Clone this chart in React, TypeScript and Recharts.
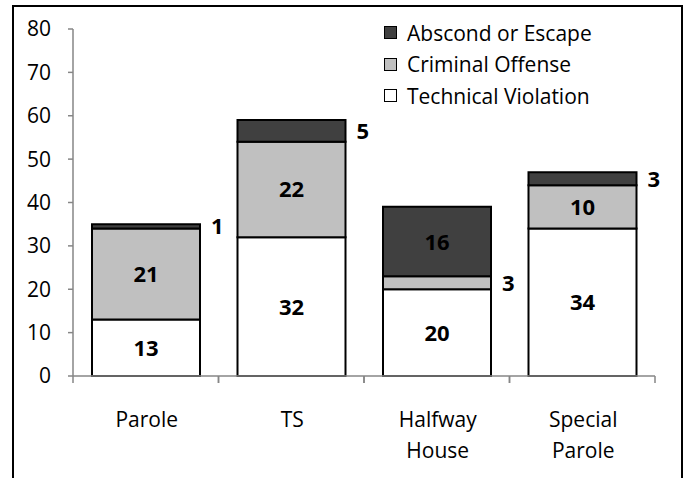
import { BarChart, Bar, XAxis, YAxis, LabelList } from 'recharts'

const categories = ['Parole', 'TS', 'Halfway House', 'Special Parole']
const technical = [13, 32, 20, 34]
const criminal = [21, 22, 3, 10]
const abscond = [1, 5, 16, 3]
const yTicks = [0, 10, 20, 30, 40, 50, 60, 70, 80]

const FONT = '"Open Sans", sans-serif'
const FS = 21
const AXIS = '#868686'

const W = 688
const H = 478
const M = { top: 29, right: 33, bottom: 32, left: 13 }
const Y_W = 60
const HALF_BAND = (W - M.left - Y_W - M.right) / categories.length / 2

const data = categories.map((name, i) => ({
  name,
  technical: technical[i],
  criminal: criminal[i],
  abscond: abscond[i],
}))

const legendItems = [
  { label: 'Abscond or Escape', color: '#404040' },
  { label: 'Criminal Offense', color: '#c0c0c0' },
  { label: 'Technical Violation', color: '#ffffff' },
]

// small values get their label outside, to the right of the bar
function SegLabel(props: any) {
  const { x, y, width, height, value } = props
  const outside = value <= 5
  return (
    <text x={outside ? x + width + 11 : x + width / 2} y={y + height / 2} dy={8}
      textAnchor={outside ? 'start' : 'middle'}
      fontFamily={FONT} fontSize={22} fontWeight="bold" fill="#000">{value}</text>
  )
}

function CatTick(props: any) {
  const { x, y, payload } = props
  const lines = String(payload.value).split(' ')
  return (
    <g>
      <line x1={x - HALF_BAND} x2={x - HALF_BAND} y1={y} y2={y + 7} stroke={AXIS} strokeWidth={1.5} />
      <line x1={x + HALF_BAND} x2={x + HALF_BAND} y1={y} y2={y + 7} stroke={AXIS} strokeWidth={1.5} />
      {lines.map((l, i) => (
        <text key={i} x={x + 1} y={y + 51 + i * 31} textAnchor="middle"
          fontFamily={FONT} fontSize={FS} fill="#000">{l}</text>
      ))}
    </g>
  )
}

export default function App() {
  return (
    <div style={{ position: 'absolute', left: 0, top: 0, width: W, height: H, overflow: 'hidden', background: '#fff' }}>
      <div style={{ position: 'absolute', left: 12, top: 5, width: 671, height: 520, border: '2px solid #000', boxSizing: 'border-box' }} />

      <BarChart width={W} height={H} data={data} margin={M}>
        <YAxis type="number" domain={[0, 80]} ticks={yTicks} width={Y_W}
          axisLine={{ stroke: AXIS, strokeWidth: 1.5 }} tickLine={{ stroke: AXIS, strokeWidth: 1.5 }}
          tickSize={5} tickMargin={17}
          tick={{ fill: '#000', fontFamily: FONT, fontSize: FS }} />
        <XAxis dataKey="name" height={70} interval={0}
          axisLine={{ stroke: AXIS, strokeWidth: 1.5 }} tickLine={false}
          tickSize={0} tickMargin={0} tick={<CatTick />} />
        <Bar dataKey="technical" stackId="a" fill="#ffffff" stroke="#000" strokeWidth={2}
          barSize={108} isAnimationActive={false}>
          <LabelList dataKey="technical" content={<SegLabel />} />
        </Bar>
        <Bar dataKey="criminal" stackId="a" fill="#c0c0c0" stroke="#000" strokeWidth={2}
          barSize={108} isAnimationActive={false}>
          <LabelList dataKey="criminal" content={<SegLabel />} />
        </Bar>
        <Bar dataKey="abscond" stackId="a" fill="#404040" stroke="#000" strokeWidth={2}
          barSize={108} isAnimationActive={false}>
          <LabelList dataKey="abscond" content={<SegLabel />} />
        </Bar>
      </BarChart>

      {/* legend */}
      <div style={{ position: 'absolute', left: 384, top: 17, fontFamily: FONT, fontSize: FS, color: '#000' }}>
        {legendItems.map((it) => (
          <div key={it.label} style={{ display: 'flex', alignItems: 'center', height: 31.5 }}>
            <span style={{ display: 'inline-block', width: 11, height: 11, background: it.color,
              border: '1.5px solid #000', marginRight: 10 }} />
            {it.label}
          </div>
        ))}
      </div>
    </div>
  )
}
